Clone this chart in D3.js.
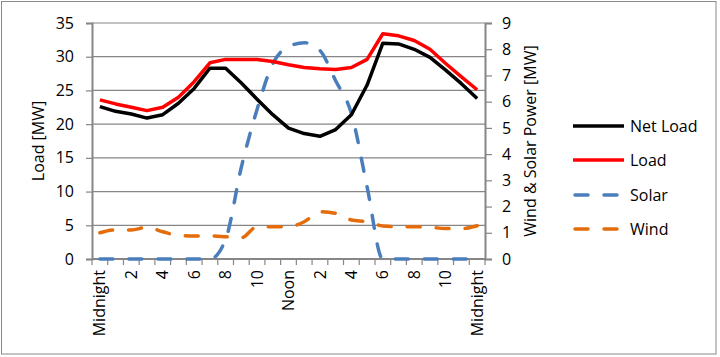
<!DOCTYPE html>
<html>
<head>
<meta charset="utf-8">
<script src="https://cdn.jsdelivr.net/npm/d3@7"></script>
<style>
  body { margin: 0; background: #fff; }
  svg text { font-family: "Open Sans", sans-serif; fill: #000; }
</style>
</head>
<body>
<div id="chart"></div>
<script>
// hours of the day, one point per hour (0..24)
const hours = d3.range(25);
const hourLabels = ["Midnight", "2", "4", "6", "8", "10", "Noon", "2", "4", "6", "8", "10", "Midnight"];

// left axis series (MW)
const netLoad = [22.6, 21.9, 21.5, 20.9, 21.4, 23.1, 25.3, 28.3, 28.3, 26.1, 23.7, 21.4, 19.4,
                 18.6, 18.2, 19.2, 21.4, 25.8, 32.0, 31.9, 31.1, 29.9, 28.0, 26.0, 23.8];
const load = [23.6, 23.0, 22.5, 22.0, 22.5, 24.0, 26.3, 29.1, 29.6, 29.6, 29.6, 29.3, 28.8,
              28.4, 28.2, 28.1, 28.4, 29.6, 33.4, 33.1, 32.4, 31.1, 29.0, 27.0, 25.1];

// right axis series (MW)
const solar = [0, 0, 0, 0, 0, 0, 0, 0, 0.75, 3.5, 5.7, 7.45, 8.1,
               8.25, 7.95, 6.8, 5.55, 2.75, 0, 0, 0, 0, 0, 0, 0];
const wind = [1.0, 1.11, 1.11, 1.21, 1.04, 0.9, 0.88, 0.88, 0.85, 0.81, 1.23, 1.23, 1.23,
              1.42, 1.8, 1.74, 1.49, 1.42, 1.26, 1.23, 1.23, 1.21, 1.16, 1.16, 1.27];

const leftTicks = d3.range(0, 36, 5);
const rightTicks = d3.range(0, 10, 1);

const width = 720, height = 357;
const plotLeft = 92, plotRight = 485, plotTop = 23, plotBottom = 259;

const svg = d3.select("#chart").append("svg")
    .attr("width", width)
    .attr("height", height);

// outer border
svg.append("rect")
    .attr("x", 1.5).attr("y", 1.5)
    .attr("width", 714.5).attr("height", 352.5)
    .attr("fill", "none")
    .attr("stroke", "#898989")
    .attr("stroke-width", 1);

const x = d3.scaleBand().domain(hours).range([plotLeft, plotRight]);
const cx = i => x(i) + x.bandwidth() / 2;
const yL = d3.scaleLinear().domain([0, 35]).range([plotBottom, plotTop]);
const yR = d3.scaleLinear().domain([0, 9]).range([plotBottom, plotTop]);

// gridlines
svg.append("g")
  .selectAll("line")
  .data(leftTicks.slice(1))
  .join("line")
    .attr("x1", plotLeft).attr("x2", plotRight)
    .attr("y1", d => yL(d)).attr("y2", d => yL(d))
    .attr("stroke", "#868686")
    .attr("stroke-width", 1.2);

// left axis
const gL = svg.append("g")
    .attr("transform", `translate(${plotLeft},0)`)
    .call(d3.axisLeft(yL).tickValues(leftTicks).tickSize(6).tickPadding(12));
gL.selectAll("text").style("font-size", "16px");

// right axis
const gR = svg.append("g")
    .attr("transform", `translate(${plotRight},0)`)
    .call(d3.axisRight(yR).tickValues(rightTicks).tickSize(7).tickPadding(10));
gR.selectAll("text").style("font-size", "16px");

[gL, gR].forEach(g => {
  g.select(".domain").attr("stroke", "#868686").attr("stroke-width", 2);
  g.selectAll(".tick line").attr("stroke", "#868686").attr("stroke-width", 1.2);
});

// x axis: ticks at band edges
const gX = svg.append("g");
gX.append("line")
    .attr("x1", plotLeft).attr("x2", plotRight)
    .attr("y1", plotBottom).attr("y2", plotBottom)
    .attr("stroke", "#868686").attr("stroke-width", 2);
gX.selectAll("line.tk")
  .data(d3.range(26))
  .join("line")
    .attr("class", "tk")
    .attr("x1", i => plotLeft + i * x.step()).attr("x2", i => plotLeft + i * x.step())
    .attr("y1", plotBottom).attr("y2", plotBottom + 6)
    .attr("stroke", "#868686").attr("stroke-width", 1.2);
gX.selectAll("text")
  .data(hourLabels)
  .join("text")
    .attr("transform", (d, i) => `translate(${cx(i * 2)},${plotBottom + 11}) rotate(-90)`)
    .attr("text-anchor", "end")
    .attr("dy", "0.35em")
    .style("font-size", "16px")
    .text(d => d);

// axis titles
svg.append("text")
    .attr("transform", "translate(38,141) rotate(-90)")
    .attr("text-anchor", "middle")
    .attr("dy", "0.35em")
    .style("font-size", "16px")
    .text("Load [MW]");
svg.append("text")
    .attr("transform", "translate(530,141) rotate(-90)")
    .attr("text-anchor", "middle")
    .attr("dy", "0.35em")
    .style("font-size", "16px")
    .text("Wind & Solar Power [MW]");

// series
const series = [
  { name: "Net Load", values: netLoad, y: yL, color: "#000000", dash: null, curve: d3.curveLinear },
  { name: "Load", values: load, y: yL, color: "#ff0000", dash: null, curve: d3.curveLinear },
  { name: "Solar", values: solar, y: yR, color: "#4a7ebb", dash: "13,16", curve: d3.curveMonotoneX },
  { name: "Wind", values: wind, y: yR, color: "#e46c0a", dash: "13,16", curve: d3.curveMonotoneX }
];

// draw order: wind, solar, net load, load (red on top of black)
[series[3], series[2], series[0], series[1]].forEach(s => {
  const line = d3.line()
      .x((d, i) => cx(i))
      .y(d => s.y(d))
      .curve(s.curve);
  svg.append("path")
      .datum(s.values)
      .attr("d", line)
      .attr("fill", "none")
      .attr("stroke", s.color)
      .attr("stroke-width", 3.5)
      .attr("stroke-linejoin", "round")
      .attr("stroke-linecap", s.dash ? "round" : "butt")
      .attr("stroke-dasharray", s.dash);
});

// legend
const legendY = [126, 160, 195, 229];
const lg = svg.append("g");
series.forEach((s, k) => {
  lg.append("line")
      .attr("x1", s.dash ? 575 : 573).attr("x2", 624)
      .attr("y1", legendY[k]).attr("y2", legendY[k])
      .attr("stroke", s.color)
      .attr("stroke-width", 3.5)
      .attr("stroke-linecap", s.dash ? "round" : "butt")
      .attr("stroke-dasharray", s.dash);
  lg.append("text")
      .attr("x", 630).attr("y", legendY[k])
      .attr("dy", "0.35em")
      .style("font-size", "16px")
      .text(s.name);
});
</script>
</body>
</html>
